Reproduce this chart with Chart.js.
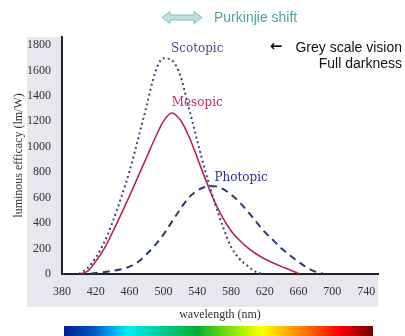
<!DOCTYPE html>
<html><head><meta charset="utf-8">
<script src="https://cdn.jsdelivr.net/npm/chart.js@4"></script>
<style>html,body{margin:0;padding:0;background:#fff;overflow:hidden}canvas{display:block}</style>
</head><body>
<canvas id="c" width="405" height="336"></canvas>
<script>
// ---- data ----
const wavelengths = [400,410,420,430,440,450,460,470,480,490,500,510,520,530,540,550,560,570,580,590,600,610,620,630,640,650,660,670,680,690];
const scotopic  = [0,45,130,250,410,600,810,1060,1318,1580,1695,1680,1560,1310,1050,800,575,380,215,120,62,15,0,null,null,null,null,null,null,null];
const mesopic   = [0,20,100,200,330,470,615,765,915,1065,1200,1265,1210,1085,915,740,578,445,340,265,205,157,118,86,58,32,4,null,null,null];
const photopic  = [0,3,8,15,25,38,58,95,155,225,310,410,510,600,655,685,690,670,625,565,490,410,330,265,200,145,95,50,18,0];
const seriesNames = ['Scotopic','Mesopic','Photopic'];
const xTicks = [380,420,460,500,540,580,620,660,700,740];
const yTicks = [0,200,400,600,800,1000,1200,1400,1600,1800];
const xTitle = 'wavelength (nm)';
const yTitle = 'luminous efficacy (lm/W)';
const noteShift = 'Purkinjie shift';
const noteArrow = '\u2190';
const noteVision = 'Grey scale vision';
const noteDark = 'Full darkness';
// label anchors in data units [nm, value]
const labelAnchors = [[540,1769],[540,1344],[592,755]];

const pts = arr => wavelengths.map((w,i)=>({x:w,y:arr[i]}));

const deco = {
  id:'deco',
  beforeDraw(chart){
    const {ctx, chartArea:a} = chart;
    ctx.save();
    ctx.fillStyle='#fff'; ctx.fillRect(0,0,chart.width,chart.height);
    ctx.fillStyle='#e7e7ef'; ctx.fillRect(27,a.top,a.right-27,307-a.top);
    ctx.fillStyle='#fff'; ctx.fillRect(a.left,a.top,a.right-a.left,a.bottom-a.top);
    ctx.restore();
  },
  afterDraw(chart){
    const {ctx, scales:{x,y}} = chart;
    ctx.save();
    // curve labels
    ctx.font='12px "DejaVu Serif"'; ctx.textAlign='center'; ctx.textBaseline='middle';
    const cols=['#5a3f95','#b8325f','#2b2f86'];
    seriesNames.forEach((n,i)=>{
      ctx.fillStyle=cols[i];
      ctx.fillText(n, x.getPixelForValue(labelAnchors[i][0]), y.getPixelForValue(labelAnchors[i][1]));
    });
    // double arrow
    ctx.beginPath();
    const ax0=162, ax1=202, cy=17.5;
    ctx.moveTo(ax0,cy); ctx.lineTo(ax0+8,cy-6); ctx.lineTo(ax0+8,cy-2.5); ctx.lineTo(ax1-8,cy-2.5);
    ctx.lineTo(ax1-8,cy-6); ctx.lineTo(ax1,cy); ctx.lineTo(ax1-8,cy+6); ctx.lineTo(ax1-8,cy+2.5);
    ctx.lineTo(ax0+8,cy+2.5); ctx.lineTo(ax0+8,cy+6); ctx.closePath();
    ctx.fillStyle='#bfe0e0'; ctx.fill(); ctx.strokeStyle='#86bcbf'; ctx.lineWidth=1; ctx.stroke();
    ctx.font='14px "Liberation Sans", Arial, sans-serif'; ctx.textAlign='left';
    ctx.fillStyle='#4aa3aa'; ctx.fillText(noteShift, 214, 18);
    ctx.fillStyle='#111'; ctx.textAlign='right';
    ctx.fillText(noteVision, 402, 48);
    ctx.fillText(noteDark, 402, 64);
    ctx.font='bold 15px "DejaVu Sans"'; ctx.textAlign='center';
    ctx.fillText(noteArrow, 276, 47);
    // spectrum bar
    const g=ctx.createLinearGradient(64,0,373,0);
    [[0,'#02208c'],[0.1,'#0057c8'],[0.16,'#00aef0'],[0.21,'#00f0f0'],[0.3,'#00d0a0'],[0.43,'#00b030'],[0.57,'#a8f000'],[0.64,'#ffff00'],[0.72,'#ffb000'],[0.8,'#ff6000'],[0.89,'#ff0000'],[1,'#700000']].forEach(s=>g.addColorStop(s[0],s[1]));
    ctx.fillStyle=g; ctx.fillRect(64,326,309,10);
    ctx.restore();
  }
};

new Chart(document.getElementById('c'), {
  type:'line',
  data:{datasets:[
    {label:seriesNames[0], data:pts(scotopic), borderColor:'#4a3f88', borderWidth:2, borderDash:[2,3], pointRadius:0, cubicInterpolationMode:'monotone', fill:false},
    {label:seriesNames[1], data:pts(mesopic), borderColor:'#b3284f', borderWidth:1.6, pointRadius:0, cubicInterpolationMode:'monotone', fill:false},
    {label:seriesNames[2], data:pts(photopic), borderColor:'#2c3a7c', borderWidth:2, borderDash:[7,5], pointRadius:0, cubicInterpolationMode:'monotone', fill:false}
  ]},
  options:{
    responsive:false, animation:false, devicePixelRatio:1,
    layout:{padding:{left:0,top:37,right:27,bottom:0}},
    plugins:{legend:{display:false}, tooltip:{enabled:false}},
    scales:{
      x:{type:'linear', min:380, max:754,
        afterFit:s=>{s.height=62;},
        afterBuildTicks:s=>{s.ticks=xTicks.map(v=>({value:v}));},
        grid:{display:false, drawTicks:false},
        border:{display:true, color:'#222', width:2},
        ticks:{padding:11, color:'#333', font:{family:'"Liberation Serif"', size:12}, maxRotation:0, autoSkip:false, callback:v=>String(v)},
        title:{display:true, text:xTitle, color:'#333', padding:14, font:{family:'"Liberation Serif"', size:12}}
      },
      y:{type:'linear', min:0, max:1863,
        afterFit:s=>{s.width=62;},
        afterBuildTicks:s=>{s.ticks=yTicks.map(v=>({value:v}));},
        grid:{display:false, drawTicks:false},
        border:{display:true, color:'#222', width:2},
        ticks:{padding:11, color:'#333', font:{family:'"Liberation Serif"', size:12}, callback:v=>String(v)},
        title:{display:true, text:yTitle, color:'#333', padding:12, font:{family:'"Liberation Serif"', size:12}}
      }
    }
  },
  plugins:[deco]
});
</script>
</body></html>
